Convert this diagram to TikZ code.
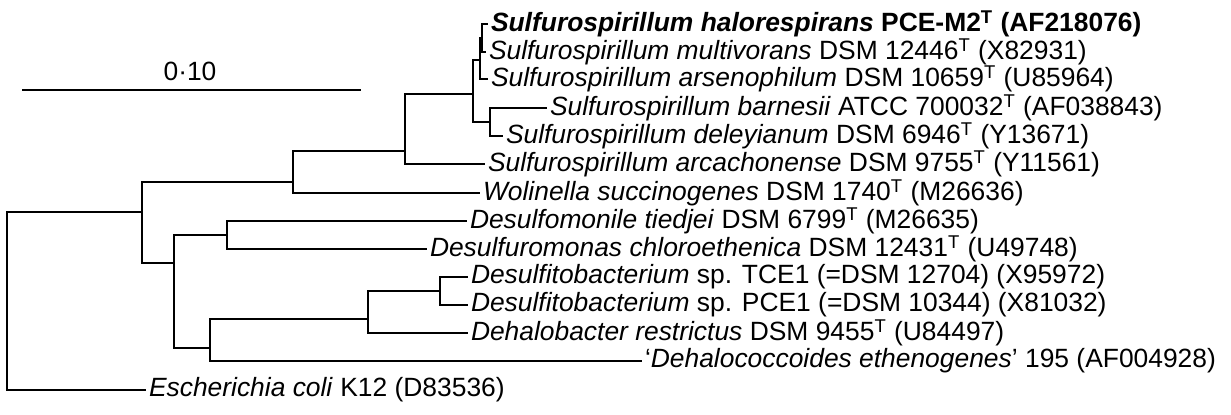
\documentclass[tikz,border=0pt]{standalone}
\usepackage{fontspec}
\setmainfont{Liberation Sans}

\begin{document}
\begin{tikzpicture}[x=0.5pt,y=-0.5pt,font=\fontsize{13.2}{16}\selectfont]
\tikzstyle{taxon}=[anchor=west,inner sep=1.5pt,outer sep=0pt]
\tikzstyle{branch}=[line width=1.2pt,black]

\useasboundingbox (0,0) rectangle (1231,414);

% scale bar
\coordinate (barL) at (22,90);
\coordinate (barR) at (361,90);
\draw[branch] (barL) -- (barR);
\node (barlabel) at (190,71) {0·10};

% internal nodes
\coordinate (root) at (7,300);
\coordinate (nA) at (142,212);
\coordinate (nB) at (293,182);
\coordinate (nT) at (405,151);
\coordinate (nS) at (473,94);
\coordinate (nQ) at (480,60);
\coordinate (nP) at (482,38);
\coordinate (nR) at (490,122);
\coordinate (nC) at (174,263);
\coordinate (nD) at (227,235);
\coordinate (nH) at (210,348);
\coordinate (nG) at (368,319);
\coordinate (nF) at (440,291);

% taxa
\node[taxon] (halo) at (488,24) {\bfseries\textit{Sulfurospirillum halorespirans} PCE-M2\textsuperscript{T} (AF218076)};
\node[taxon] (multi) at (486,52) {\textit{Sulfurospirillum multivorans} DSM 12446\textsuperscript{T} (X82931)};
\node[taxon] (arseno) at (488,79) {\textit{Sulfurospirillum arsenophilum} DSM 10659\textsuperscript{T} (U85964)};
\node[taxon] (barn) at (547,108) {\textit{Sulfurospirillum barnesii} ATCC 700032\textsuperscript{T} (AF038843)};
\node[taxon] (deley) at (503,136) {\textit{Sulfurospirillum deleyianum} DSM 6946\textsuperscript{T} (Y13671)};
\node[taxon] (arca) at (485,164) {\textit{Sulfurospirillum arcachonense} DSM 9755\textsuperscript{T} (Y11561)};
\node[taxon] (wol) at (480,193) {\textit{Wolinella succinogenes} DSM 1740\textsuperscript{T} (M26636)};
\node[taxon] (dmon) at (467,221) {\textit{Desulfomonile tiedjei} DSM 6799\textsuperscript{T} (M26635)};
\node[taxon] (drom) at (427,249) {\textit{Desulfuromonas chloroethenica} DSM 12431\textsuperscript{T} (U49748)};
\node[taxon] (tce) at (468,277) {\textit{Desulfitobacterium} sp. TCE1 (=DSM 12704) (X95972)};
\node[taxon] (pce) at (468,305) {\textit{Desulfitobacterium} sp. PCE1 (=DSM 10344) (X81032)};
\node[taxon] (dbac) at (468,333) {\textit{Dehalobacter restrictus} DSM 9455\textsuperscript{T} (U84497)};
\node[taxon] (dcoc) at (642,361) {‘\textit{Dehalococcoides ethenogenes}’ 195 (AF004928)};
\node[taxon] (ecoli) at (146,390) {\textit{Escherichia coli} K12 (D83536)};

% branches
\draw[branch] (root) |- (nA);
\draw[branch] (root) |- (ecoli.west);
\draw[branch] (nA) |- (nB);
\draw[branch] (nA) |- (nC);
\draw[branch] (nB) |- (nT);
\draw[branch] (nB) |- (wol.west);
\draw[branch] (nT) |- (nS);
\draw[branch] (nT) |- (arca.west);
\draw[branch] (nS) |- (nQ);
\draw[branch] (nS) |- (nR);
\draw[branch] (nQ) |- (nP);
\draw[branch] (nQ) |- (arseno.west);
\draw[branch] (nP) |- (halo.west);
\draw[branch] (nP) |- (multi.west);
\draw[branch] (nR) |- (barn.west);
\draw[branch] (nR) |- (deley.west);
\draw[branch] (nC) |- (nD);
\draw[branch] (nC) |- (nH);
\draw[branch] (nD) |- (dmon.west);
\draw[branch] (nD) |- (drom.west);
\draw[branch] (nH) |- (nG);
\draw[branch] (nH) |- (dcoc.west);
\draw[branch] (nG) |- (nF);
\draw[branch] (nG) |- (dbac.west);
\draw[branch] (nF) |- (tce.west);
\draw[branch] (nF) |- (pce.west);

\end{tikzpicture}
\end{document}
